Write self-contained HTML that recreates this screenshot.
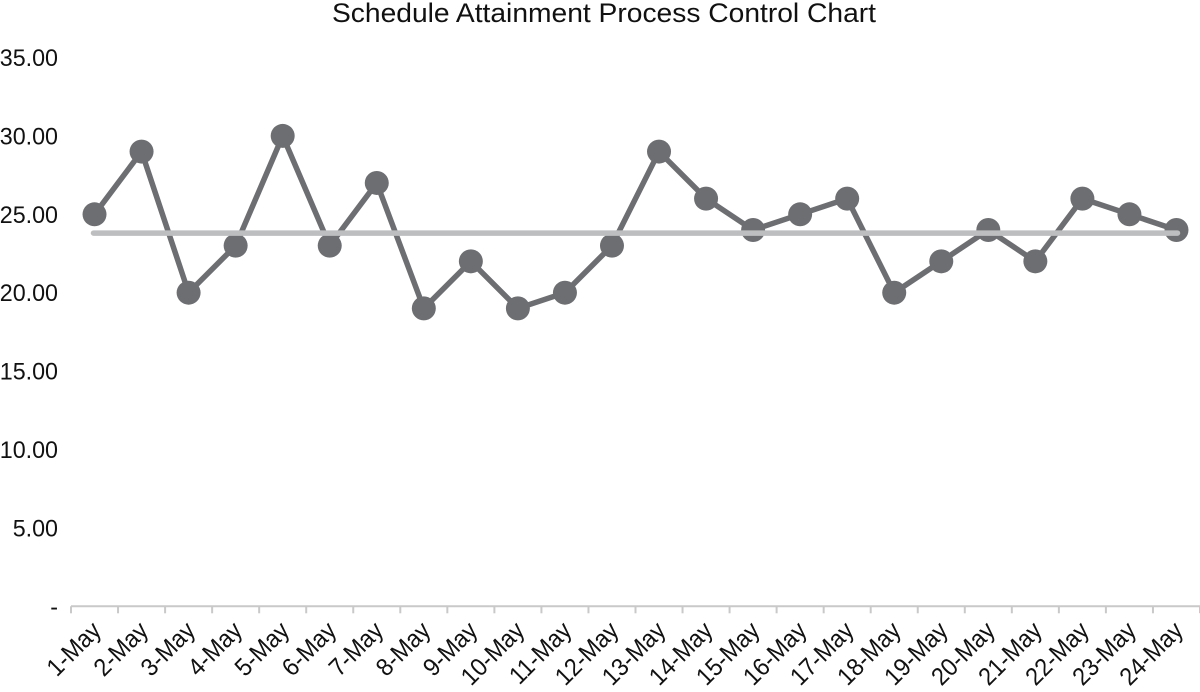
<!DOCTYPE html>
<html lang="en">
<head>
<meta charset="utf-8">
<title>Schedule Attainment Process Control Chart</title>
<style>
html,body{margin:0;padding:0;background:#fff;width:1200px;height:692px;overflow:hidden}
svg{display:block;font-family:"Liberation Sans",sans-serif}
text{fill:#111}
</style>
</head>
<body>
<svg id="chart" width="1200" height="692" viewBox="0 0 1200 692">
<text x="604" y="22" text-anchor="middle" font-size="26.5" textLength="544" lengthAdjust="spacingAndGlyphs">Schedule Attainment Process Control Chart</text>
</svg>
<script>
const categories = ["1-May","2-May","3-May","4-May","5-May","6-May","7-May","8-May","9-May","10-May","11-May","12-May","13-May","14-May","15-May","16-May","17-May","18-May","19-May","20-May","21-May","22-May","23-May","24-May"];
const attainment = [25,29,20,23,30,23,27,19,22,19,20,23,29,26,24,25,26,20,22,24,22,26,25,24];
const meanLine = [23.8,23.8];
const yTicks = [0,5,10,15,20,25,30,35];
const yTickLabels = ["-","5.00","10.00","15.00","20.00","25.00","30.00","35.00"];

const NS = "http://www.w3.org/2000/svg";
const svg = document.getElementById("chart");
const plotLeft = 71, plotRight = 1200, plotBottom = 606.3, unitHeight = 15.68;
const band = (plotRight - plotLeft) / categories.length;
function xBand(i){ return plotLeft + band * i; }
function xCenter(i){ return plotLeft + band * (i + 0.5); }
function yScale(v){ return plotBottom - v * unitHeight; }
function make(tag, attrs){
  const el = document.createElementNS(NS, tag);
  for (const k in attrs) el.setAttribute(k, attrs[k]);
  svg.appendChild(el);
  return el;
}

const axis = make("line", {x1: plotLeft, x2: plotRight, y1: plotBottom, y2: plotBottom, stroke: "#c9c9c9", "stroke-width": 2});



for (let i = 0; i <= categories.length; i++) {
  const tick = make("line", {x1: xBand(i), x2: xBand(i), y1: plotBottom, y2: plotBottom + 7, stroke: "#c9c9c9", "stroke-width": 2});
  
  
}

yTicks.forEach(function(v, i){
  const ax = 58, ay = yScale(v) + 8.5;
  const label = make("text", {x: 0, y: 0, "text-anchor": "end", "font-size": 24, transform: "translate(" + ax + "," + ay + ") scale(0.97,1)"});
  label.textContent = yTickLabels[i];
  
  
});

categories.forEach(function(c, i){
  const ax = xCenter(i) + 8, ay = 632;
  const label = make("text", {x: 0, y: 0, "text-anchor": "end", "font-size": 25, transform: "translate(" + ax + "," + ay + ") rotate(-45) scale(0.93,1)"});
  label.textContent = c;
  
  
});

const seriesPath = make("polyline", {
  points: attainment.map(function(v, i){ return xCenter(i) + "," + yScale(v); }).join(" "),
  fill: "none", stroke: "#6d6e71", "stroke-width": 5.5, "stroke-linejoin": "miter"
});



attainment.forEach(function(v, i){
  const dot = make("circle", {cx: xCenter(i), cy: yScale(v), r: 12, fill: "#6d6e71"});
  
  
});

const mean = make("line", {
  x1: xCenter(0) - 1, x2: xCenter(categories.length - 1) + 1,
  y1: yScale(meanLine[0]), y2: yScale(meanLine[1]),
  stroke: "#bcbec0", "stroke-width": 5.5, "stroke-linecap": "round"
});


</script>
</body>
</html>
